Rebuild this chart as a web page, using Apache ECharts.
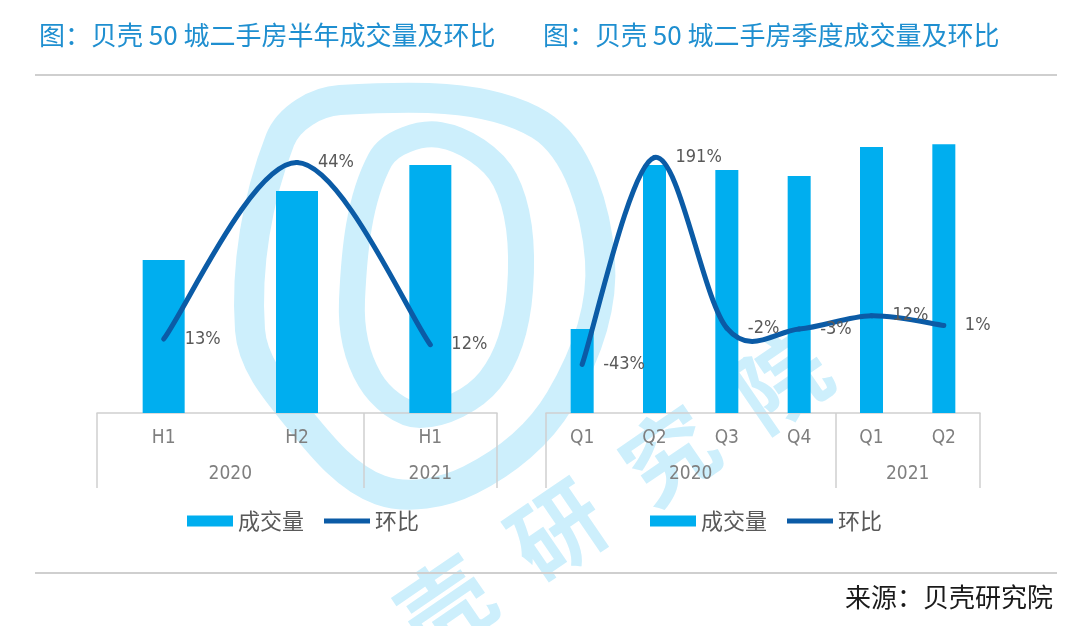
<!DOCTYPE html>
<html><head><meta charset="utf-8">
<script src="https://cdn.jsdelivr.net/npm/echarts@6/dist/echarts.min.js"></script>
<style>html,body{margin:0;padding:0;background:#fff}#c{width:1080px;height:626px}</style>
</head><body><div id="c"></div>
<script>
// ---- data ----
const halfCats = ['H1', 'H2', 'H1'];
const halfYearGroups = ['2020', '2021'];
const halfYearCounts = [2, 1];
const halfVolume = [48.9, 70.9, 79.2];          // relative volume index
const halfRatio = [13, 44, 12];                 // % ring ratio

const quarterCats = ['Q1', 'Q2', 'Q3', 'Q4', 'Q1', 'Q2'];
const quarterYearGroups = ['2020', '2021'];
const quarterYearCounts = [4, 2];
const quarterVolume = [26.8, 79.2, 77.6, 75.7, 85.0, 85.9];
const quarterRatio = [-43, 191, -2, -3, 12, 1];

const titles = ['图：贝壳 50 城二手房半年成交量及环比', '图：贝壳 50 城二手房季度成交量及环比'];
const legendNames = ['成交量', '环比'];
const sourceText = '来源：贝壳研究院';
const watermarkChars = ['壳', '研', '究', '院'];

// ---- helpers ----
const BAR = '#00AEEF', LINE = '#0B5BA6', GRAY = '#D0D0D0', WM = '#CDEFFC';
const NUM_FONT = '"Liberation Sans Narrow","DejaVu Sans Condensed","Noto Sans CJK SC",sans-serif';
const CJK = '"Noto Sans CJK SC","Noto Sans",sans-serif';

function groupStarts(counts) { const s = []; let a = 0; counts.forEach(c => { s.push(a); a += c; }); return s; }
function groupCenters(counts) { const s = []; let a = 0; counts.forEach(c => { s.push(a + c / 2); a += c; }); return s; }

function catAxis(gridIndex, data, counts) {
  const starts = groupStarts(counts);
  return {
    type: 'category', gridIndex, data, boundaryGap: true, position: 'bottom',
    axisLine: { show: true, lineStyle: { color: GRAY, width: 1.5 } },
    axisTick: { show: true, length: 75, interval: (i) => starts.indexOf(i) >= 0, lineStyle: { color: GRAY, width: 1.5 } },
    axisLabel: { interval: 0, margin: 16, color: '#7F7F7F', fontSize: 19, fontFamily: NUM_FONT }
  };
}
function yearAxis(gridIndex, n, groups, counts) {
  const centers = groupCenters(counts);
  return {
    type: 'value', gridIndex, min: 0, max: n, interval: 0.5, position: 'bottom',
    axisLine: { show: false }, axisTick: { show: false }, splitLine: { show: false },
    axisLabel: {
      margin: 52, color: '#7F7F7F', fontSize: 19, fontFamily: NUM_FONT, showMinLabel: true, showMaxLabel: true,
      formatter: (v) => { const k = centers.findIndex(c => Math.abs(c - v) < 1e-6); return k >= 0 ? groups[k] : ''; }
    }
  };
}
function hiddenY(gridIndex, min, max) {
  return { type: 'value', gridIndex, min, max, show: false, splitLine: { show: false } };
}
// smoothed (Catmull-Rom, like the spreadsheet's smoothed line) ratio line, positioned through the axes
function ratioSeries(xIdx, yIdx, values) {
  return {
    name: legendNames[1], type: 'custom', xAxisIndex: xIdx, yAxisIndex: yIdx, z: 5,
    itemStyle: { color: LINE },
    data: values.map((v, i) => [i, v]),
    encode: { x: 0, y: 1 },
    renderItem: (params, api) => {
      const i = params.dataIndexInside, n = params.dataInsideLength;
      const P = j => { j = Math.max(0, Math.min(n - 1, j)); return api.coord([api.value(0, j), api.value(1, j)]); };
      const p1 = P(i);
      const children = [];
      if (i < n - 1) {
        const p0 = P(i - 1), p2 = P(i + 1), p3 = P(i + 2);
        children.push({
          type: 'bezierCurve',
          shape: {
            x1: p1[0], y1: p1[1],
            cpx1: p1[0] + (p2[0] - p0[0]) / 6, cpy1: p1[1] + (p2[1] - p0[1]) / 6,
            cpx2: p2[0] - (p3[0] - p1[0]) / 6, cpy2: p2[1] - (p3[1] - p1[1]) / 6,
            x2: p2[0], y2: p2[1]
          },
          style: { stroke: LINE, lineWidth: 5, fill: 'none', lineCap: 'round' }
        });
      }
      children.push({
        type: 'text', x: p1[0] + 21, y: p1[1], z2: 10,
        style: { text: api.value(1) + '%', fill: '#595959', font: '18px ' + NUM_FONT, align: 'left', verticalAlign: 'middle' }
      });
      return { type: 'group', children };
    }
  };
}

const legendBase = {
  top: 505, itemWidth: 46, itemHeight: 11, itemGap: 20, selectedMode: false,
  data: [{ name: legendNames[0], icon: 'rect' }, { name: legendNames[1], icon: 'path://M0,0H46V5H0Z' }],
  textStyle: { color: '#595959', fontSize: 22, fontFamily: CJK }
};

// watermark (logo outline + text), purely decorative
const wmGraphics = [
  { type: 'polygon', z: -10, silent: true,
    shape: { points: [[250, 330], [280, 140], [340, 100], [540, 125], [600, 260], [560, 400], [470, 480], [380, 490], [300, 420]], smooth: 0.35 },
    style: { stroke: WM, lineWidth: 30, fill: 'none' } },
  { type: 'polygon', z: -10, silent: true,
    shape: { points: [[352, 300], [380, 160], [440, 135], [505, 180], [520, 290], [490, 380], [420, 415], [370, 380]], smooth: 0.35 },
    style: { stroke: WM, lineWidth: 26, fill: 'none' } }
];
watermarkChars.forEach((ch, k) => {
  wmGraphics.push({ type: 'text', z: -10, silent: true, x: 445 + k * 112, y: 605 - k * 75, rotation: 0.6,
    style: { text: ch, fill: WM, font: 'bold 92px ' + CJK, align: 'center', verticalAlign: 'middle' } });
});

const option = {
  backgroundColor: '#fff',
  animation: false,
  title: [
    { text: titles[0], left: 34, top: 17, textStyle: { color: '#1F8FD0', fontSize: 26, fontWeight: 'normal', fontFamily: CJK } },
    { text: titles[1], left: 538, top: 17, textStyle: { color: '#1F8FD0', fontSize: 26, fontWeight: 'normal', fontFamily: CJK } }
  ],
  grid: [
    { left: 97, right: 583, top: 100, bottom: 213 },
    { left: 546, right: 100, top: 100, bottom: 213 }
  ],
  xAxis: [
    catAxis(0, halfCats, halfYearCounts),
    yearAxis(0, halfCats.length, halfYearGroups, halfYearCounts),
    catAxis(1, quarterCats, quarterYearCounts),
    yearAxis(1, quarterCats.length, quarterYearGroups, quarterYearCounts)
  ],
  yAxis: [
    hiddenY(0, 0, 100), hiddenY(0, 0, 55),
    hiddenY(1, 0, 100), hiddenY(1, -98, 256)
  ],
  legend: [
    Object.assign({}, legendBase, { left: 182 }),
    Object.assign({}, legendBase, { left: 645 })
  ],
  series: [
    { name: legendNames[0], type: 'bar', xAxisIndex: 0, yAxisIndex: 0, data: halfVolume, barWidth: 42, itemStyle: { color: BAR } },
    ratioSeries(0, 1, halfRatio),
    { name: legendNames[0], type: 'bar', xAxisIndex: 2, yAxisIndex: 2, data: quarterVolume, barWidth: 23, itemStyle: { color: BAR } },
    ratioSeries(2, 3, quarterRatio)
  ],
  graphic: wmGraphics.concat([
    { type: 'line', shape: { x1: 35, y1: 75, x2: 1057, y2: 75 }, style: { stroke: '#CFCFCF', lineWidth: 2 } },
    { type: 'line', shape: { x1: 35, y1: 573, x2: 1057, y2: 573 }, style: { stroke: '#CFCFCF', lineWidth: 2 } },
    { type: 'text', right: 27, top: 584, style: { text: sourceText, fill: '#1A1A1A', font: '26px ' + CJK } }
  ])
};
const chart = echarts.init(document.getElementById('c'), null, { renderer: 'canvas' });
chart.setOption(option);
</script></body></html>
